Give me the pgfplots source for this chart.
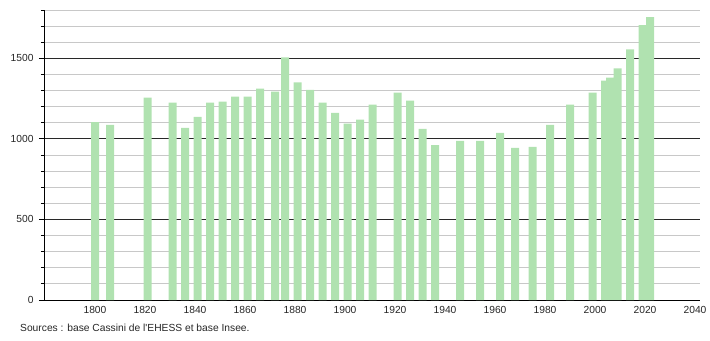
\documentclass[border=0pt]{standalone}
\usepackage{pgfplots}
\pgfplotsset{compat=1.18}
\usepackage{fontspec}
\setmainfont{Liberation Sans}[Ligatures=TeXOff]
\definecolor{barg}{RGB}{176,226,176}
\definecolor{minorg}{RGB}{200,200,200}
\definecolor{majorg}{RGB}{40,40,40}
\begin{document}
\begin{tikzpicture}[x=1bp,y=1bp]
\path[use as bounding box] (0,0) rectangle (710,340);
\begin{axis}[
  at={(44bp,40bp)}, anchor=south west,
  scale only axis, width=656bp, height=290bp,
  xmin=1779.6, xmax=2042, ymin=0, ymax=1800,
  axis x line*=bottom, axis y line*=left,
  axis line style={-, black, line width=0.8bp},
  xtick={1800,1820,...,2040},
  ytick={0,500,1000,1500},
  minor ytick={100,200,300,400,600,700,800,900,1100,1200,1300,1400,1600,1700,1800},
  ymajorgrids, yminorgrids,
  major grid style={majorg, line width=0.8bp},
  minor grid style={minorg, line width=0.8bp},
  tick align=outside,
  x tick style={draw=none},
  y tick style={black, line width=0.8bp},
  major tick length=5bp, minor tick length=3bp,
  tick label style={font=\fontsize{10.3}{12}\selectfont, text=black!85},
  yticklabel style={xshift=-2bp},
  xticklabel style={yshift=2bp},
  /pgf/number format/assume math mode=true,
  /pgf/number format/set thousands separator={},
  ybar, bar width=3.2,
  clip=false,
]
\addplot[fill=barg, draw=none] coordinates {
(1800,1104) (1806,1087) (1821,1256) (1831,1225) (1836,1069) (1841,1137)
(1846,1225) (1851,1231) (1856,1262) (1861,1262) (1866,1312) (1872,1294)
(1876,1506) (1881,1350) (1886,1304) (1891,1225) (1896,1162) (1901,1094)
(1906,1119) (1911,1212) (1921,1287) (1926,1237) (1931,1062) (1936,962)
(1946,987) (1954,987) (1962,1037) (1968,944) (1975,950) (1982,1087)
(1990,1212) (1999,1287) (2004,1362) (2006,1381) (2009,1437) (2014,1556)
(2019,1706) (2022,1756)
};
\end{axis}
\node[anchor=west, font=\fontsize{10.3}{12}\selectfont, text=black!85, inner sep=0pt] at (20,12) {Sources : base Cassini de l'EHESS et base Insee.};
\end{tikzpicture}
\end{document}
